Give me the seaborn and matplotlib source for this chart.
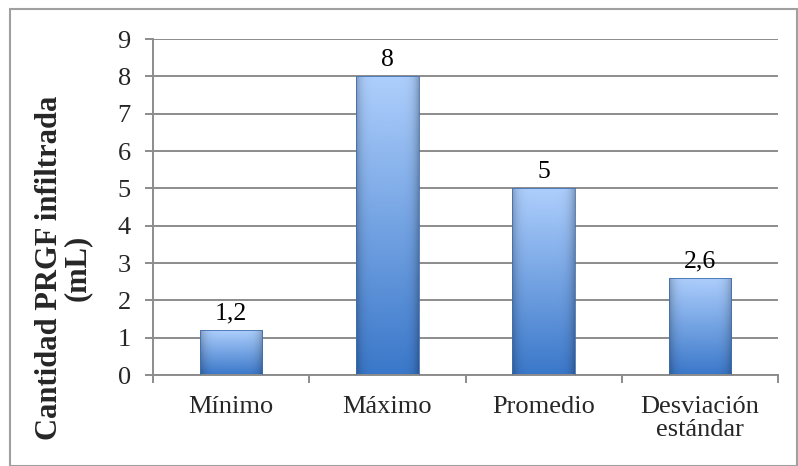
import numpy as np
import matplotlib.pyplot as plt
import matplotlib.patches as mpatches
import pandas as pd
import seaborn as sns

categories = ['Mínimo', 'Máximo', 'Promedio', 'Desviación\nestándar']
values = [1.2, 8, 5, 2.6]
value_labels = ['1,2', '8', '5', '2,6']
y_ticks = [0, 1, 2, 3, 4, 5, 6, 7, 8, 9]
y_label = 'Cantidad PRGF infiltrada\n(mL)'

sns.set_theme(style='white')
plt.rcParams['font.family'] = ['Liberation Serif', 'DejaVu Serif']

df = pd.DataFrame({'cat': categories, 'val': values})

fig = plt.figure(figsize=(7.98, 4.66), dpi=100)
ax = fig.add_axes([153/798, 1-375/466, 625/798, 336/466])

sns.barplot(data=df, x='cat', y='val', color='#5b95e0', width=0.40,
            ax=ax, zorder=3, saturation=1)

# gradient fill for each bar
light = np.array([0.68, 0.81, 0.99])
dark = np.array([0.23, 0.47, 0.79])
ny, nx = 100, 60
t = np.linspace(0, 1, ny)[:, None, None]
s = np.linspace(-1, 1, nx)[None, :, None]
grad = light * (1 - t) + dark * t
grad = grad * (1 - 0.25 * np.abs(s) ** 6)
grad = np.clip(grad, 0, 1)
for p in ax.patches:
    x0, y0 = p.get_x(), p.get_y()
    w, h = p.get_width(), p.get_height()
    p.set_facecolor('none')
    p.set_edgecolor('#3f6fae')
    p.set_linewidth(0.6)
    im = ax.imshow(grad, extent=[x0, x0 + w, y0, y0 + h], origin='upper',
                   aspect='auto', zorder=2.5, interpolation='bilinear')
    im.set_clip_path(p)

ax.bar_label(ax.containers[0], labels=value_labels, padding=4, fontsize=18.5,
             color='black', zorder=5)

ax.set_xlim(-0.5, len(categories) - 0.5)
ax.set_ylim(0, 9)
ax.set_yticks(y_ticks)
ax.yaxis.grid(True, color='#8c8c8c', linewidth=1.4, zorder=0)
ax.set_axisbelow(True)
ax.set_xlabel('')
ax.set_ylabel('')

for side in ['top', 'right']:
    ax.spines[side].set_visible(False)
for side in ['left', 'bottom']:
    ax.spines[side].set_color('#8c8c8c')
    ax.spines[side].set_linewidth(1.4)

ax.tick_params(axis='y', length=6, width=1.4, color='#8c8c8c', labelsize=19,
               pad=10, left=True)
ax.set_xticks(np.arange(-0.5, len(categories)), minor=True)
ax.tick_params(axis='x', which='major', length=0, labelsize=19, pad=15)
ax.tick_params(axis='x', which='minor', length=6, width=1.4, color='#8c8c8c',
               bottom=True, direction='out')
for lbl in ax.get_xticklabels():
    lbl.set_linespacing(1.05)

fig.text(63/798, 1-268/466, y_label, rotation=90, ha='center', va='center',
         fontsize=22, fontweight='bold', multialignment='center',
         linespacing=0.95)

# outer border of the chart area
fig.patches.append(mpatches.Rectangle((10/798, 0.0), 787/798, 1-9/466,
                                      transform=fig.transFigure, fill=False,
                                      edgecolor='#a0a0a0', linewidth=1.5))

fig.savefig('out.png', dpi=100)
